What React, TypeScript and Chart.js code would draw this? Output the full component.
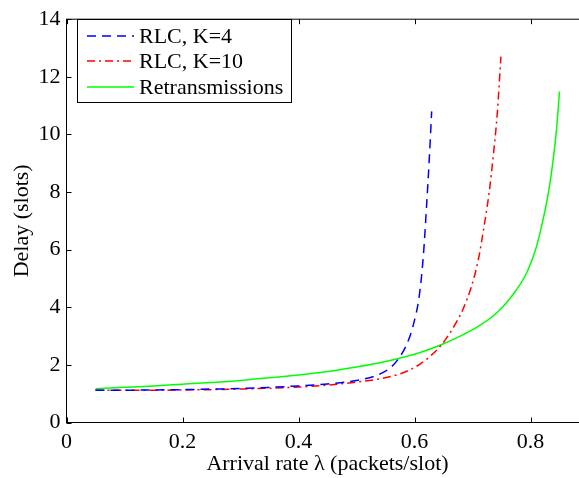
import React, { useEffect, useRef } from "react";
import { Chart, registerables } from "chart.js";

Chart.register(...registerables);

const xTicks = [0, 0.2, 0.4, 0.6, 0.8];
const yTicks = [0, 2, 4, 6, 8, 10, 12, 14];

const seriesNames = ["RLC, K=4", "RLC, K=10", "Retransmissions"];

const rlc4Lambda = [0.05, 0.1, 0.15, 0.2, 0.25, 0.3, 0.35, 0.4, 0.45, 0.5, 0.53, 0.546, 0.56, 0.572, 0.5865, 0.598, 0.6083, 0.6152, 0.621, 0.6255, 0.6296];
const rlc4Delay = [1.12, 1.12, 1.13, 1.14, 1.16, 1.18, 1.22, 1.27, 1.34, 1.46, 1.6, 1.74, 1.93, 2.2, 2.71, 3.39, 4.41, 5.77, 7.58, 9.15, 10.8];

const rlc10Lambda = [0.05, 0.1, 0.15, 0.2, 0.25, 0.3, 0.35, 0.4, 0.45, 0.5, 0.5405, 0.575, 0.6095, 0.647, 0.6728, 0.684, 0.6986, 0.71, 0.7198, 0.729, 0.7359, 0.7428, 0.749];
const rlc10Delay = [1.12, 1.12, 1.12, 1.13, 1.14, 1.16, 1.19, 1.23, 1.3, 1.4, 1.52, 1.69, 2.03, 2.71, 3.5, 3.95, 4.75, 5.65, 6.79, 8.03, 9.28, 10.75, 12.7];

const retransLambda = [0.05, 0.1, 0.15, 0.2, 0.25, 0.3, 0.35, 0.4, 0.45, 0.5, 0.55, 0.6, 0.647, 0.678, 0.707, 0.7417, 0.7703, 0.7934, 0.808, 0.819, 0.8307, 0.839, 0.845, 0.85];
const retransDelay = [1.17, 1.22, 1.27, 1.33, 1.39, 1.46, 1.55, 1.65, 1.77, 1.93, 2.12, 2.37, 2.71, 2.99, 3.3, 3.8, 4.45, 5.2, 5.95, 6.8, 7.95, 9.1, 10.2, 11.49];

const FONT = "'Liberation Serif', 'Times New Roman', serif";
const FS = 22;

const pts = (xs: number[], ys: number[]) => xs.map((x, i) => ({ x, y: ys[i] }));

const framePlugin = {
  id: "frame",
  afterDatasetsDraw(chart: any) {
    const { ctx, chartArea: a, scales } = chart;
    ctx.save();
    ctx.strokeStyle = "#000";
    ctx.lineWidth = 1;
    ctx.setLineDash([]);
    ctx.strokeRect(a.left, a.top, a.right - a.left, a.bottom - a.top);
    ctx.beginPath();
    for (const v of xTicks) {
      const px = Math.round(scales.x.getPixelForValue(v)) + 0.5;
      ctx.moveTo(px, a.bottom);
      ctx.lineTo(px, a.bottom - 5);
      ctx.moveTo(px, a.top);
      ctx.lineTo(px, a.top + 5);
    }
    for (const v of yTicks) {
      const py = Math.round(scales.y.getPixelForValue(v)) + 0.5;
      ctx.moveTo(a.left, py);
      ctx.lineTo(a.left + 5, py);
      ctx.moveTo(a.right, py);
      ctx.lineTo(a.right - 5, py);
    }
    ctx.stroke();
    ctx.restore();
  },
  afterDraw(chart: any) {
    const { ctx } = chart;
    ctx.save();
    const bx = 77.5, by = 19.5, bw = 214, bh = 83;
    ctx.fillStyle = "#fff";
    ctx.fillRect(bx, by, bw, bh);
    ctx.strokeStyle = "#000";
    ctx.lineWidth = 1;
    ctx.setLineDash([]);
    ctx.strokeRect(bx, by, bw, bh);
    const rows = [36, 61, 87];
    chart.data.datasets.forEach((ds: any, i: number) => {
      const y = rows[i];
      ctx.beginPath();
      ctx.strokeStyle = ds.borderColor;
      ctx.lineWidth = ds.borderWidth;
      ctx.setLineDash(ds.borderDash || []);
      ctx.moveTo(87, y);
      ctx.lineTo(134, y);
      ctx.stroke();
      ctx.setLineDash([]);
      ctx.fillStyle = "#000";
      ctx.font = `${FS}px ${FONT}`;
      ctx.textBaseline = "middle";
      ctx.textAlign = "left";
      ctx.fillText(ds.label, 139, y + 1);
    });
    ctx.restore();
  },
};

export default function App() {
  const ref = useRef<HTMLCanvasElement>(null);
  useEffect(() => {
    if (!ref.current) return;
    const chart = new Chart(ref.current, {
      type: "line",
      data: {
        datasets: [
          {
            label: seriesNames[0],
            data: pts(rlc4Lambda, rlc4Delay),
            borderColor: "#0000ff",
            borderWidth: 1.5,
            borderDash: [9, 6],
            pointRadius: 0,
            fill: false,
            cubicInterpolationMode: "monotone",
          },
          {
            label: seriesNames[1],
            data: pts(rlc10Lambda, rlc10Delay),
            borderColor: "#ff0000",
            borderWidth: 1.5,
            borderDash: [8, 4, 2, 4],
            pointRadius: 0,
            fill: false,
            cubicInterpolationMode: "monotone",
          },
          {
            label: seriesNames[2],
            data: pts(retransLambda, retransDelay),
            borderColor: "#00ff00",
            borderWidth: 1.5,
            pointRadius: 0,
            fill: false,
            cubicInterpolationMode: "monotone",
          },
        ],
      },
      options: {
        responsive: false,
        animation: false,
        devicePixelRatio: 1,
        layout: { padding: { left: 0, top: 10.5, right: 11.5, bottom: 0 } },
        plugins: { legend: { display: false }, tooltip: { enabled: false } },
        scales: {
          x: {
            type: "linear",
            min: 0,
            max: 0.9,
            grid: { display: false, drawTicks: false },
            border: { display: false },
            afterFit: (s: any) => { s.height = 55.5; },
            afterBuildTicks: (s: any) => { s.ticks = xTicks.map((v) => ({ value: v })); },
            ticks: {
              padding: 7,
              color: "#000",
              font: { family: FONT, size: FS },
              maxRotation: 0,
              callback: (v: any) => String(Number(Number(v).toFixed(1))),
            },
            title: {
              display: true,
              text: "Arrival rate λ (packets/slot)",
              color: "#000",
              font: { family: FONT, size: FS },
              padding: { top: 0, bottom: 0.8 },
            },
          },
          y: {
            type: "linear",
            min: 0,
            max: 14,
            grid: { display: false, drawTicks: false },
            border: { display: false },
            afterFit: (s: any) => { s.width = 66.5; },
            afterBuildTicks: (s: any) => { s.ticks = yTicks.map((v) => ({ value: v })); },
            ticks: {
              padding: 6,
              color: "#000",
              font: { family: FONT, size: FS },
              callback: (v: any) => String(v),
            },
            title: {
              display: true,
              text: "Delay (slots)",
              color: "#000",
              font: { family: FONT, size: FS },
              padding: { top: 9, bottom: 0 },
            },
          },
        },
      },
      plugins: [framePlugin],
    } as any);
    return () => chart.destroy();
  }, []);
  return (
    <div
      style={{
        position: "fixed",
        left: 0,
        top: 0,
        width: 579,
        height: 478,
        overflow: "hidden",
        background: "#fff",
      }}
    >
      <canvas ref={ref} width={600} height={478} style={{ display: "block" }} />
    </div>
  );
}
